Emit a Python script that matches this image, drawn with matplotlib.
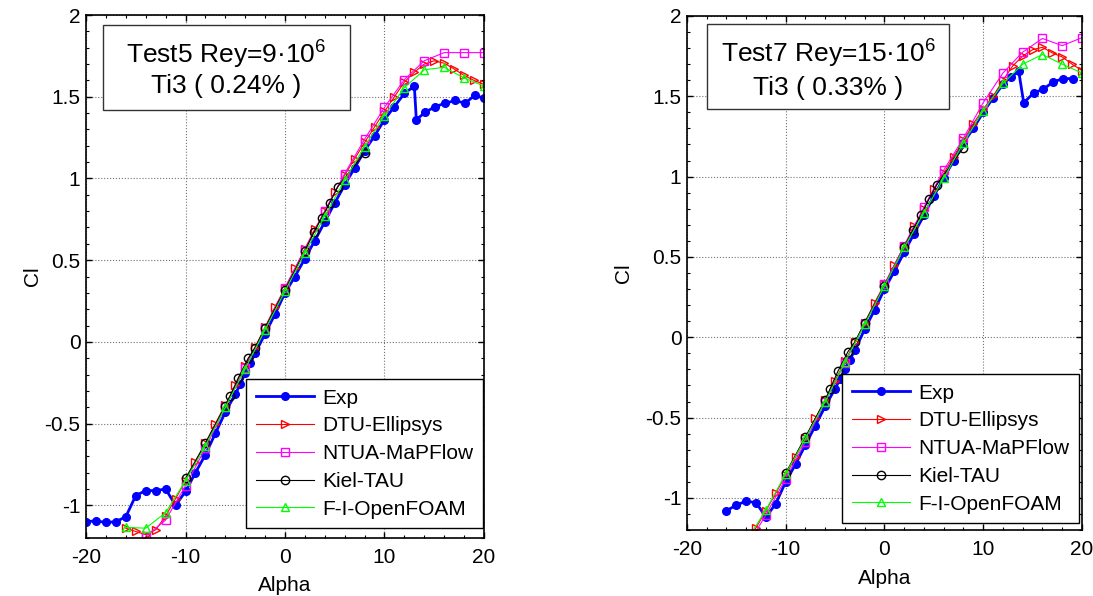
import matplotlib
matplotlib.use("Agg")
import matplotlib.pyplot as plt
from matplotlib.legend_handler import HandlerLine2D
from matplotlib.patches import Rectangle
from matplotlib.ticker import MultipleLocator

plt.rcParams["font.family"] = ["Liberation Sans", "DejaVu Sans"]
plt.rcParams["mathtext.default"] = "regular"

# ---- Test5, Rey = 9e6 ----
exp5_alpha = [-20, -19, -18, -17, -16, -15, -14, -13, -12, -11, -10, -9, -8, -7, -6, -5,
              -4.5, -4, -3.5, -3, -2, -1, 0, 1, 2, 3, 4, 5, 6, 7, 8, 9, 10, 11, 12, 13,
              13.2, 14.1, 15.1, 16.1, 17.1, 18.1, 19.1, 20]
exp5_cl = [-1.10, -1.095, -1.105, -1.10, -1.07, -0.94, -0.91, -0.91, -0.90, -1.00, -0.915,
           -0.80, -0.69, -0.56, -0.43, -0.32, -0.26, -0.19, -0.13, -0.07, 0.05, 0.17, 0.30,
           0.40, 0.51, 0.62, 0.735, 0.85, 0.96, 1.065, 1.17, 1.26, 1.36, 1.44, 1.52, 1.565,
           1.36, 1.405, 1.44, 1.46, 1.477, 1.46, 1.51, 1.49]

dtu5_alpha = list(range(-16, 21))
dtu5_cl = [-1.14, -1.16, -1.18, -1.15, -1.065, -0.96, -0.85, -0.735, -0.62, -0.50, -0.385,
           -0.265, -0.145, -0.03, 0.09, 0.215, 0.33, 0.45, 0.57, 0.69, 0.80, 0.915, 1.02,
           1.12, 1.22, 1.315, 1.41, 1.50, 1.59, 1.65, 1.70, 1.72, 1.705, 1.67, 1.63, 1.60, 1.575]

ntua5_alpha = list(range(-14, 21, 2))
ntua5_cl = [-1.19, -1.09, -0.88, -0.65, -0.40, -0.16, 0.085, 0.33, 0.565, 0.80, 1.03, 1.24,
            1.435, 1.605, 1.72, 1.77, 1.77, 1.77]

kiel5_alpha = [-10, -8, -6, -5.5, -4.7, -3.7, -3, -2, 0, 2, 2.9, 3.7, 4.5, 5.3, 8]
kiel5_cl = [-0.835, -0.62, -0.39, -0.33, -0.22, -0.10, -0.035, 0.085, 0.32, 0.555, 0.67,
            0.76, 0.85, 0.95, 1.155]

foam5_alpha = list(range(-16, 21, 2))
foam5_cl = [-1.135, -1.14, -1.045, -0.85, -0.635, -0.40, -0.165, 0.075, 0.31, 0.545, 0.77,
            0.99, 1.195, 1.385, 1.555, 1.665, 1.68, 1.615, 1.565]

# ---- Test7, Rey = 15e6 ----
exp7_alpha = [-16, -15, -14, -13, -12, -11, -10, -9, -8, -7, -6, -5, -4.5, -4, -3.5, -3, -2,
              -1, 0, 1, 2, 3, 4, 5, 6, 7, 8, 9, 10, 11, 12, 12.8, 13.6, 14.1, 15.1, 16.1,
              17.1, 18.1, 19.1]
exp7_cl = [-1.08, -1.045, -1.02, -1.03, -1.12, -1.035, -0.90, -0.79, -0.67, -0.55, -0.43,
           -0.32, -0.26, -0.20, -0.14, -0.08, 0.05, 0.17, 0.30, 0.41, 0.53, 0.645, 0.76,
           0.88, 0.99, 1.10, 1.21, 1.30, 1.40, 1.49, 1.575, 1.62, 1.655, 1.46, 1.52, 1.545,
           1.59, 1.61, 1.61]

dtu7_alpha = list(range(-14, 21))
dtu7_cl = [-1.28, -1.185, -1.08, -0.97, -0.86, -0.745, -0.63, -0.505, -0.39, -0.27, -0.15,
           -0.03, 0.09, 0.215, 0.33, 0.45, 0.57, 0.69, 0.80, 0.92, 1.02, 1.125, 1.225, 1.33,
           1.42, 1.50, 1.60, 1.69, 1.75, 1.79, 1.805, 1.77, 1.745, 1.70, 1.66]

ntua7_alpha = list(range(-14, 21, 2))
ntua7_cl = [-1.31, -1.105, -0.88, -0.65, -0.40, -0.16, 0.085, 0.33, 0.57, 0.81, 1.04, 1.24,
            1.46, 1.645, 1.775, 1.86, 1.815, 1.865]

kiel7_alpha = [-10, -8, -6, -5.5, -4.7, -3.7, -3, -2, 0, 2, 2.9, 3.7, 4.5, 5.3, 8]
kiel7_cl = [-0.845, -0.62, -0.39, -0.32, -0.21, -0.09, -0.03, 0.09, 0.32, 0.56, 0.67, 0.76,
            0.86, 0.95, 1.18]

foam7_alpha = list(range(-14, 21, 2))
foam7_cl = [-1.27, -1.075, -0.85, -0.63, -0.40, -0.155, 0.08, 0.32, 0.56, 0.775, 0.99,
            1.21, 1.41, 1.58, 1.70, 1.76, 1.70, 1.645]

labels = ["Exp", "DTU-Ellipsys", "NTUA-MaPFlow", "Kiel-TAU", "F-I-OpenFOAM"]
xticks = [-20, -10, 0, 10, 20]
yticks = [-1, -0.5, 0, 0.5, 1, 1.5, 2]
yticklabels = ["-1", "-0.5", "0", "0.5", "1", "1.5", "2"]


class EndMarker(HandlerLine2D):
    # marker at the right end of the legend line, like the original
    def get_xdata(self, legend, xdescent, ydescent, width, height, fontsize):
        return [-xdescent, -xdescent + width], [-xdescent + width]


def panel(ax, series, title1, title2, box, text_y, leg_anchor):
    (ea, ec), (da, dc), (na, nc), (ka, kc), (fa, fc) = series
    ax.plot(ea, ec, "-o", color="#0000ff", lw=2, ms=5.5, label=labels[0])
    ax.plot(da, dc, "->", color="red", mfc="none", lw=0.8, ms=6, label=labels[1])
    ax.plot(na, nc, "-s", color="#ff00ff", mfc="none", lw=0.8, ms=6, label=labels[2])
    ax.plot(ka, kc, "-o", color="black", mfc="none", lw=0.8, ms=6, label=labels[3])
    ax.plot(fa, fc, "-^", color="#00ff00", mfc="none", lw=0.8, ms=6, label=labels[4])

    ax.set_xlim(-20, 20)
    ax.set_ylim(-1.2, 2)
    ax.set_xticks(xticks)
    ax.set_xticklabels([str(t) for t in xticks])
    ax.set_yticks(yticks)
    ax.set_yticklabels(yticklabels)
    ax.xaxis.set_minor_locator(MultipleLocator(2))
    ax.yaxis.set_minor_locator(MultipleLocator(0.1))
    ax.tick_params(which="both", direction="in", top=True, right=True, labelsize=15)
    ax.tick_params(which="major", length=4, width=1)
    ax.tick_params(which="minor", length=2.5, width=0.8)
    ax.tick_params(axis="x", pad=7)
    ax.tick_params(axis="y", pad=4)
    ax.grid(True, which="major", ls=":", color="0.45", lw=0.8)
    for s in ax.spines.values():
        s.set_linewidth(1.2)

    ax.set_xlabel("Alpha", fontsize=15)
    ax.set_ylabel("Cl", fontsize=15)

    x0, y0, x1, y1 = box
    ax.add_patch(Rectangle((x0, y0), x1 - x0, y1 - y0, transform=ax.transAxes,
                           facecolor="white", edgecolor="0.2", lw=1, zorder=5))
    cx = (x0 + x1) / 2
    ax.text(cx, text_y[0], title1, transform=ax.transAxes, ha="center",
            va="baseline", fontsize=19, zorder=6)
    ax.text(cx, text_y[1], title2, transform=ax.transAxes, ha="center",
            va="baseline", fontsize=19, zorder=6)

    leg = ax.legend(loc="lower right", bbox_to_anchor=leg_anchor, borderaxespad=0,
                    fontsize=15, handlelength=2.8, handletextpad=0.4, labelspacing=0.42,
                    borderpad=0.45, fancybox=False, framealpha=1, edgecolor="black",
                    handler_map={plt.Line2D: EndMarker()})
    leg.get_frame().set_linewidth(1.0)
    leg.set_zorder(7)


fig = plt.figure(figsize=(10.93, 5.96), dpi=100)
ax1 = fig.add_axes([0.0787, 0.0973, 0.3641, 0.8775])
ax2 = fig.add_axes([0.6285, 0.1107, 0.3614, 0.8625])

panel(ax1,
      [(exp5_alpha, exp5_cl), (dtu5_alpha, dtu5_cl), (ntua5_alpha, ntua5_cl),
       (kiel5_alpha, kiel5_cl), (foam5_alpha, foam5_cl)],
      "Test5 Rey=9·10$^6$", "Ti3 ( 0.24% )",
      (0.0427, 0.818, 0.663, 0.981), (0.908, 0.851), (0.997, 0.019))
panel(ax2,
      [(exp7_alpha, exp7_cl), (dtu7_alpha, dtu7_cl), (ntua7_alpha, ntua7_cl),
       (kiel7_alpha, kiel7_cl), (foam7_alpha, foam7_cl)],
      "Test7 Rey=15·10$^6$", "Ti3 ( 0.33% )",
      (0.050, 0.819, 0.664, 0.984), (0.9086, 0.846), (0.992, 0.0136))

ax1.xaxis.set_label_coords(0.5, -0.073)
ax1.yaxis.set_label_coords(-0.11, 0.5)
ax2.xaxis.set_label_coords(0.5, -0.076)
ax2.yaxis.set_label_coords(-0.136, 0.5)

fig.savefig("out.png", dpi=100)
